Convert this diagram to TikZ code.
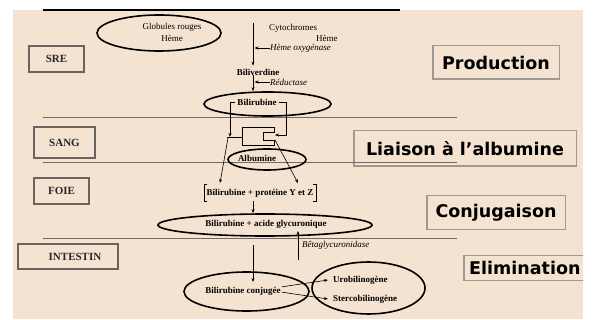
\documentclass[tikz,border=0pt]{standalone}
\usepackage{fontspec}
\setmainfont{Liberation Serif}
\newfontfamily\comicfont{DejaVu Sans}
\usetikzlibrary{arrows.meta,shapes.geometric}
\definecolor{bg}{RGB}{245,227,209}
\definecolor{lbox}{RGB}{105,100,96}
\definecolor{rbox}{RGB}{160,152,145}
\definecolor{sep}{RGB}{110,106,102}
\begin{document}
\begin{tikzpicture}[x=1pt,y=-1pt,
  arr/.style={-{Stealth[length=4pt,width=3pt]},line width=0.6pt},
  ln/.style={line width=0.6pt},
  ell/.style={draw,ellipse,line width=1.6pt,inner sep=0pt},
  sm/.style={font=\fontsize{9}{10}\selectfont,inner sep=0pt},
  smb/.style={font=\fontsize{9}{10}\selectfont\bfseries,inner sep=0pt},
  smi/.style={font=\fontsize{9}{10}\selectfont\itshape,inner sep=0pt},
  lbl/.style={draw=lbox,line width=2pt,fill=bg,text=black!85,font=\fontsize{11}{12}\selectfont\bfseries,inner sep=0pt},
  rbl/.style={draw=rbox,line width=1.5pt,fill=bg,font=\comicfont\bfseries\fontsize{17.5}{20}\selectfont,inner sep=0pt},
  sepline/.style={draw=sep,line width=0.9pt}]
\useasboundingbox (0,0) rectangle (596,320);
\fill[bg] (13,10) rectangle (583,319);
\draw[line width=1.5pt] (43,10) -- (400,10);

% left labels
\node[lbl,minimum width=55pt,minimum height=26pt] (sre) at (56.5,59) {SRE};
\node[lbl,minimum width=61pt,minimum height=31pt] (sang) at (64.5,142.5) {SANG};
\node[lbl,minimum width=55pt,minimum height=26pt] (foie) at (61.5,191) {FOIE};
\node[lbl,minimum width=100pt,minimum height=25pt] (intbox) at (68,256.5) {};
\node[font=\fontsize{11}{12}\selectfont\bfseries,text=black!85,inner sep=0pt] (intestin) at (75,256.5) {INTESTIN};

% right labels
\node[rbl,minimum width=126.5pt,minimum height=33.5pt] (prod) at (496,62.5) {Production};
\node[rbl,minimum width=222.5pt,minimum height=35.5pt] (liai) at (465,148.5) {Liaison à l’albumine};
\node[rbl,minimum width=138.5pt,minimum height=33.5pt] (conjug) at (496,212.5) {Conjugaison};
\begin{scope}
\clip (13,10) rectangle (583,319);
\node[rbl,minimum width=140pt,minimum height=25pt,anchor=west] (elimbox) at (463,268) {};
\end{scope}
\node[font=\comicfont\bfseries\fontsize{17.5}{20}\selectfont,inner sep=0pt,anchor=west] (elim) at (469,268) {Elimination};

% separators
\draw[sepline] (43,117) -- (457,117);
\draw[sepline] (43,162) -- (457,162);
\draw[sepline] (43,238) -- (457,238);

% ellipses
\node[ell,minimum width=124pt,minimum height=36pt] (globE) at (159,33) {};
\node[ell,minimum width=127pt,minimum height=24pt] (bilE) at (267.5,104) {};
\node[ell,minimum width=78pt,minimum height=21pt] (albE) at (267,159.5) {};
\node[ell,minimum width=214pt,minimum height=22pt] (acideE) at (265,225) {};
\node[ell,minimum width=125pt,minimum height=39pt] (conjE) at (246.5,291.5) {};
\node[ell,minimum width=113pt,minimum height=52pt] (uroE) at (368.5,288) {};

% texts
\node[sm] (gr1) at (172,27) {Globules rouges};
\node[sm] (gr2) at (172,38) {Hème};
\node[sm,anchor=west] (cyt) at (269,28) {Cytochromes};
\node[sm,anchor=west] (heme2) at (316,38) {Hème};
\node[smi,anchor=west] (ho) at (270,48) {Hème oxygénase};
\node[smb] (bv) at (258,72) {Biliverdine};
\node[smi,anchor=west] (red) at (270,82) {Réductase};
\node[smb] (br) at (257,102) {Bilirubine};
\node[smb] (alb) at (257,158) {Albumine};
\node[smb,inner xsep=2.5pt,minimum height=16pt] (prot) at (260,193) {Bilirubine + protéine Y et Z};
\node[smb] (acide) at (266,224) {Bilirubine + acide glycuronique};
\node[smi,anchor=west] (beta) at (302,245) {Bêtaglycuronidase};
\node[smb] (conj) at (243,291) {Bilirubine conjugée};
\node[smb,anchor=west] (uro) at (333,280) {Urobilinogène};
\node[smb,anchor=west] (ster) at (333,299) {Stercobilinogène};

% coordinates
\coordinate (top) at (253,23);
\coordinate (bl) at (230,102);
\coordinate (tickL) at (227,137);
\coordinate (recL) at (242,137);
\coordinate (brc) at (286,102);
\coordinate (notch) at (275,135);
\coordinate (dl) at (228,138);
\coordinate (pl) at (220,183);
\coordinate (dr) at (275,140);
\coordinate (pr) at (298,183);
\coordinate (bt) at (298,260);
\coordinate (btend) at (298,231);
\coordinate (c1) at (253,245);
\coordinate (c2) at (253,282);

% main flow
\draw[arr,shorten >=3pt] (top) -- (top |- bv.north);
\draw[arr,shorten >=1.5pt] (ho.west) -- (ho.west -| top);
\draw[arr] (top |- bv.south) -- (top |- bilE.north);
\draw[arr,shorten >=1.5pt] (red.west) -- (red.west -| top);

% brackets from Bilirubine
\draw[arr] ([xshift=-2pt]br.west) -- (bl) -- (bl |- tickL);
\draw[ln] (tickL) -- (recL);
\draw[ln] (242,127) -- (274,127) -- (274,132) -- (263,132) -- (263,140) -- (274,140) -- (274,145) -- (242,145) -- cycle;
\draw[arr] ([xshift=2pt]br.east) -- (brc) -- (brc |- notch) -- (notch);
\draw[arr] (dl) -- (pl);
\draw[arr] (dr) -- (pr);

% bracket around protein
\draw[line width=0.8pt] ([xshift=3pt]prot.north west) -- (prot.north west) -- (prot.south west) -- ([xshift=3pt]prot.south west);
\draw[line width=0.8pt] ([xshift=-3pt]prot.north east) -- (prot.north east) -- (prot.south east) -- ([xshift=-3pt]prot.south east);

\draw[arr] (prot.south -| top) -- (top |- acideE.north);
\draw[arr] (bt) -- (btend);
\draw[arr] (c1) -- (c2);
\draw[arr,shorten <=1pt] ([yshift=4pt]conj.east) -- ([xshift=-5pt]uro.west);
\draw[arr,shorten <=1pt] ([yshift=-1pt]conj.east) -- ([xshift=-5pt]ster.west);
\end{tikzpicture}
\end{document}
